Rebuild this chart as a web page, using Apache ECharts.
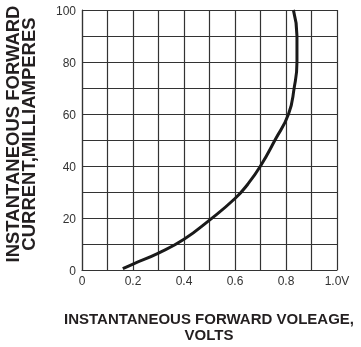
<!DOCTYPE html>
<html>
<head>
<meta charset="utf-8">
<script src="https://cdn.jsdelivr.net/npm/echarts@6/dist/echarts.min.js"></script>
<style>
  html, body { margin: 0; padding: 0; background: #fff; }
  #chart { width: 361px; height: 347px; }
</style>
</head>
<body>
<div id="chart"></div>
<script>
// forward voltage (V) vs forward current (mA)
var volts = [0.16, 0.2, 0.3, 0.4, 0.5, 0.6, 0.65, 0.7, 0.757, 0.81, 0.832, 0.843, 0.843, 0.829];
var milliamps = [0.5, 2.3, 6.5, 11.8, 19.2, 27.5, 33, 40, 50, 60, 70, 80, 90, 100];

var xTitle = 'INSTANTANEOUS FORWARD VOLEAGE,\nVOLTS';
var yTitle = 'INSTANTANEOUS FORWARD\nCURRENT,MILLIAMPERES';

var points = [];
for (var i = 0; i < volts.length; i++) {
  points.push([volts[i], milliamps[i]]);
}

var myChart = echarts.init(document.getElementById('chart'));
var option = {
  animation: false,
  textStyle: { fontFamily: 'Liberation Sans, Arial, sans-serif' },
  grid: { left: 82, right: 24, top: 10, bottom: 77 },
  xAxis: {
    type: 'value',
    min: 0,
    max: 1,
    interval: 0.1,
    axisLine: { lineStyle: { color: '#333', width: 1.2 } },
    axisTick: { show: false },
    splitLine: { lineStyle: { color: '#333', width: 1.2 } },
    axisLabel: {
      color: '#333',
      fontSize: 12,
      margin: 6,
      formatter: function (v) {
        var k = Math.round(v * 10);
        if (k % 2 !== 0) return '';
        if (k === 0) return '0';
        if (k === 10) return '1.0V';
        return (k / 10).toFixed(1);
      }
    }
  },
  yAxis: {
    type: 'value',
    min: 0,
    max: 100,
    interval: 10,
    axisLine: { show: true, lineStyle: { color: '#333', width: 1.2 } },
    axisTick: { show: false },
    splitLine: { lineStyle: { color: '#333', width: 1.2 } },
    axisLabel: {
      color: '#333',
      fontSize: 12,
      margin: 6,
      verticalAlign: 'top',
      padding: [-4, 0, 0, 0],
      formatter: function (v) {
        return v % 20 === 0 ? String(v) : '';
      }
    }
  },
  graphic: [
    {
      type: 'text',
      x: 209,
      y: 312,
      style: {
        text: xTitle,
        fontSize: 15,
        fontWeight: 'bold',
        fill: '#231f20',
        align: 'center',
        verticalAlign: 'top',
        lineHeight: 16,
        fontFamily: 'Liberation Sans, Arial, sans-serif'
      }
    },
    {
      type: 'text',
      x: 22,
      y: 134,
      rotation: Math.PI / 2,
      style: {
        text: yTitle,
        fontSize: 18.5,
        fontWeight: 'bold',
        fill: '#231f20',
        align: 'center',
        verticalAlign: 'middle',
        lineHeight: 16,
        fontFamily: 'Liberation Sans, Arial, sans-serif'
      }
    }
  ],
  series: [{
    type: 'line',
    data: points,
    smooth: true,
    showSymbol: false,
    lineStyle: { color: '#1a1a1a', width: 3 }
  }]
};
myChart.setOption(option, true);
</script>
</body>
</html>
